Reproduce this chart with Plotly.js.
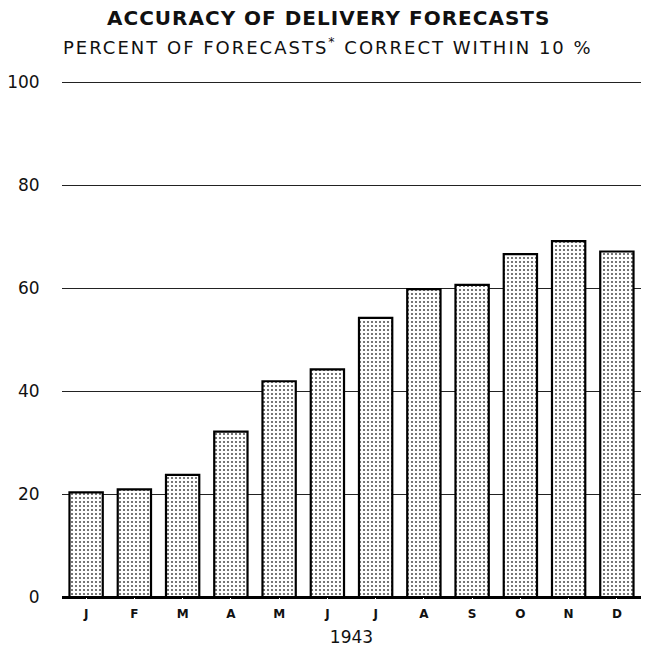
<!DOCTYPE html>
<html>
<head>
<meta charset="utf-8">
<script src="https://cdn.plot.ly/plotly-3.0.1.min.js"></script>
<style>html,body{margin:0;padding:0;background:#fff;}#chart{width:645px;height:653px;}</style>
</head>
<body>
<div id="chart"></div>
<script>
const months = ["J1","F","M1","A1","M2","J2","J3","A2","S","O","N","D"];
const monthLabels = ["J","F","M","A","M","J","J","A","S","O","N","D"];
const percentCorrect = [20.3, 20.9, 23.7, 32.1, 41.9, 44.2, 54.2, 59.8, 60.6, 66.6, 69.1, 67.1];
const yTicks = [0, 20, 40, 60, 80, 100];
const titleText = "ACCURACY OF DELIVERY FORECASTS";
const subtitleText = "PERCENT OF FORECASTS<sup>*</sup> CORRECT WITHIN 10 %";
const xAxisTitle = "1943";

const trace = {
  type: "bar",
  x: months,
  y: percentCorrect,
  marker: {
    color: "#ffffff",
    line: {color: "#000", width: 2.2},
    pattern: {shape: ".", fgcolor: "#555", bgcolor: "#fff", size: 4, solidity: 0.22}
  },
  hoverinfo: "skip"
};

const layout = {
  width: 645, height: 653,
  margin: {l: 62, r: 4, t: 80, b: 56},
  paper_bgcolor: "#fff", plot_bgcolor: "#fff",
  showlegend: false,
  bargap: 0.31,
  font: {family: "DejaVu Sans, sans-serif", color: "#111"},
  annotations: [
    {text: "<span style='letter-spacing:1px'><b>" + titleText + "</b></span>", xref: "paper", yref: "paper",
     x: 0.46, y: 1, yshift: 62, xanchor: "center", yanchor: "middle", showarrow: false,
     font: {size: 20, color: "#111"}},
    {text: "<span style='letter-spacing:2px'>" + subtitleText + "</span>", xref: "paper", yref: "paper",
     x: 0.46, y: 1, yshift: 34, xanchor: "center", yanchor: "middle", showarrow: false,
     font: {size: 18, color: "#111"}}
  ],
  xaxis: {
    type: "category",
    tickvals: months, ticktext: monthLabels,
    tickfont: {size: 12, family: "DejaVu Sans, sans-serif", color: "#111", weight: "bold"},
    showgrid: false, zeroline: false,
    showline: false, ticks: "outside", ticklen: 6, tickcolor: "#fff",
    title: {text: xAxisTitle, font: {size: 17, color: "#111"}, standoff: 10}
  },
  yaxis: {
    range: [0, 100.4],
    tickvals: yTicks,
    ticktext: yTicks.map(String),
    tickfont: {size: 17, color: "#111"},
    showgrid: true, gridcolor: "#222", gridwidth: 1,
    zeroline: true, zerolinecolor: "#000", zerolinewidth: 3,
    showline: false,
    ticks: "outside", ticklen: 18, tickcolor: "#fff"
  }
};

Plotly.newPlot("chart", [trace], layout, {displayModeBar: false, staticPlot: true});
</script>
</body>
</html>
